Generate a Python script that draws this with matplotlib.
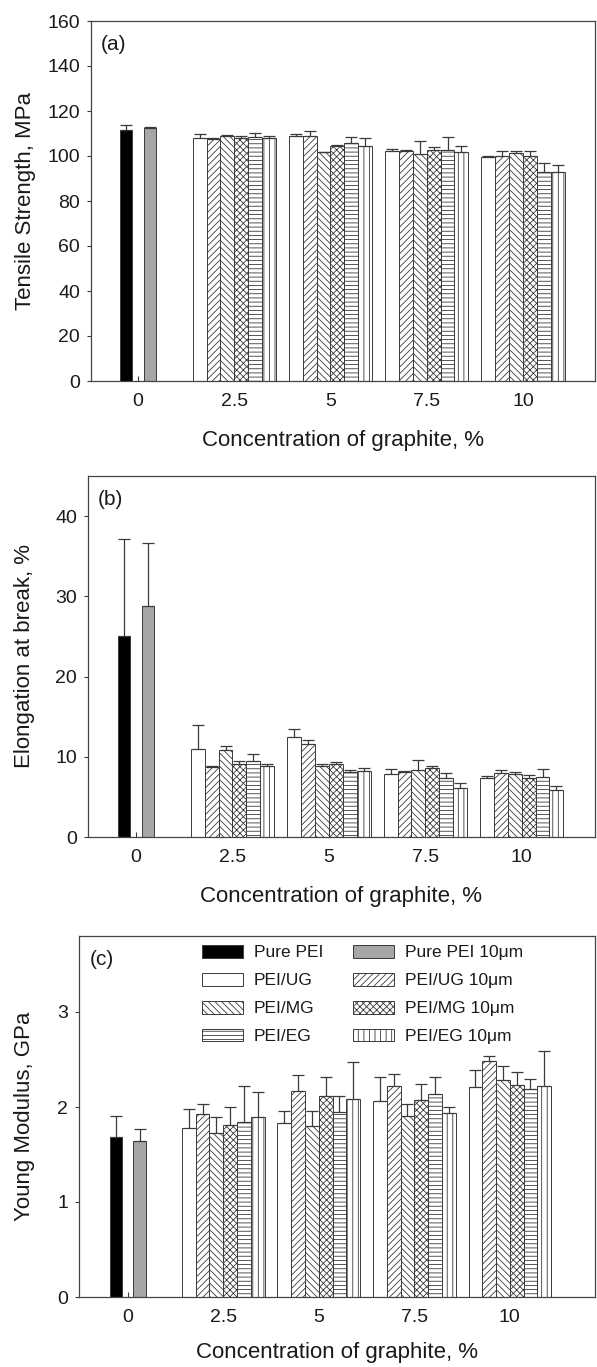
import numpy as np
import matplotlib
matplotlib.use("Agg")
import matplotlib.pyplot as plt

plt.rcParams['font.family'] = ['Liberation Sans', 'DejaVu Sans']
plt.rcParams['hatch.linewidth'] = 0.6

# concentration groups (%)
conc = [2.5, 5, 7.5, 10]
tick_pos = [0, 2.5, 5, 7.5, 10]
tick_lab = ['0', '2.5', '5', '7.5', '10']

series = ['PEI/UG', 'PEI/UG 10\u03bcm', 'PEI/MG', 'PEI/MG 10\u03bcm', 'PEI/EG', 'PEI/EG 10\u03bcm']
hatches = ['', '/////', '\\\\\\\\\\', 'xxxxx', '----', '|||']
pure_names = ['Pure PEI', 'Pure PEI 10\u03bcm']
pure_colors = ['black', '#a6a6a6']

# (a) tensile strength, MPa
ts_pure = [111.4, 112.5]
ts_pure_err = [2.3, 0.5]
ts_ug = [107.8, 109.0, 102.4, 99.4]
ts_ug_err = [2.0, 0.9, 0.9, 0.7]
ts_ug10 = [107.5, 109.0, 102.4, 100.1]
ts_ug10_err = [0.3, 2.0, 0.3, 2.0]
ts_mg = [108.7, 101.6, 100.9, 101.5]
ts_mg_err = [0.8, 0.3, 5.8, 0.9]
ts_mg10 = [108.1, 104.6, 102.8, 100.1]
ts_mg10_err = [0.6, 0.3, 1.3, 2.2]
ts_eg = [108.4, 105.9, 102.8, 93.0]
ts_eg_err = [2.0, 2.5, 5.8, 4.0]
ts_eg10 = [107.8, 104.6, 101.9, 93.0]
ts_eg10_err = [1.0, 3.5, 2.7, 3.1]

# (b) elongation at break, %
el_pure = [25.0, 28.8]
el_pure_err = [12.2, 7.8]
el_ug = [11.0, 12.5, 7.9, 7.3]
el_ug_err = [3.0, 1.0, 0.55, 0.25]
el_ug10 = [8.7, 11.6, 8.1, 8.0]
el_ug10_err = [0.2, 0.5, 0.1, 0.35]
el_mg = [10.9, 8.8, 8.4, 7.8]
el_mg_err = [0.4, 0.3, 1.25, 0.35]
el_mg10 = [9.1, 9.1, 8.6, 7.4]
el_mg10_err = [0.35, 0.25, 0.25, 0.35]
el_eg = [9.5, 8.05, 7.4, 7.5]
el_eg_err = [0.9, 0.3, 0.6, 0.95]
el_eg10 = [8.8, 8.2, 6.1, 5.8]
el_eg10_err = [0.35, 0.4, 0.6, 0.6]

# (c) Young modulus, GPa
ym_pure = [1.68, 1.64]
ym_pure_err = [0.23, 0.13]
ym_ug = [1.78, 1.83, 2.06, 2.21]
ym_ug_err = [0.2, 0.13, 0.26, 0.18]
ym_ug10 = [1.93, 2.17, 2.22, 2.48]
ym_ug10_err = [0.1, 0.17, 0.13, 0.06]
ym_mg = [1.73, 1.80, 1.91, 2.28]
ym_mg_err = [0.17, 0.16, 0.12, 0.15]
ym_mg10 = [1.81, 2.12, 2.07, 2.23]
ym_mg10_err = [0.19, 0.2, 0.175, 0.14]
ym_eg = [1.84, 1.95, 2.14, 2.19]
ym_eg_err = [0.385, 0.17, 0.175, 0.1]
ym_eg10 = [1.89, 2.08, 1.94, 2.22]
ym_eg10_err = [0.27, 0.39, 0.055, 0.37]

W, H = 597, 1367
edge = '#3a3a3a'
txt = '#1a1a1a'
bw = 0.36
pw = 0.32


def panel(box, xlim, ylim, yticks, ylabel, tag, pure, pure_err, vals, errs, xpad=14):
    l, r, t, b = box
    ax = plt.gcf().add_axes([l / W, 1 - b / H, (r - l) / W, (b - t) / H])
    handles = []
    for i in range(2):
        x = (i - 0.5) * 0.62
        h = ax.bar(x, pure[i], pw, color=pure_colors[i], edgecolor=edge,
                   linewidth=0.7, zorder=2)
        ax.errorbar(x, pure[i], yerr=[[0], [pure_err[i]]], fmt='none',
                    ecolor=edge, elinewidth=0.9, capsize=4.2, capthick=0.9, zorder=3)
        handles.append(h)
    for j in range(6):
        x = np.array(conc) + (j - 2.5) * bw
        h = ax.bar(x, vals[j], bw, color='white', edgecolor=edge, hatch=hatches[j],
                   linewidth=0.7, zorder=2)
        ax.errorbar(x, vals[j], yerr=[np.zeros(len(conc)), errs[j]], fmt='none',
                    ecolor=edge, elinewidth=0.9, capsize=4.2, capthick=0.9, zorder=3)
        handles.append(h)
    ax.set_xlim(*xlim)
    ax.set_ylim(*ylim)
    ax.set_xticks(tick_pos)
    ax.set_xticklabels(tick_lab)
    ax.set_yticks(yticks)
    ax.tick_params(axis='x', direction='in', length=3.5, width=0.8, color=edge,
                   labelsize=14, labelcolor=txt, pad=9)
    ax.tick_params(axis='y', direction='out', length=3, width=0.8, color=edge,
                   labelsize=14, labelcolor=txt, pad=5)
    for s in ax.spines.values():
        s.set_color('#444444')
        s.set_linewidth(0.9)
    ax.set_xlabel('Concentration of graphite, %', fontsize=16, color=txt, labelpad=xpad)
    ax.set_ylabel(ylabel, fontsize=16, color=txt)
    ax.text(0.02, 0.935, tag, transform=ax.transAxes, fontsize=15, color=txt,
            va='center', ha='left')
    return ax, handles


fig = plt.figure(figsize=(W / 100, H / 100), dpi=100)

ax1, _ = panel((91, 595, 21, 381), (-1.22, 11.87), (0, 160), range(0, 161, 20),
               'Tensile Strength, MPa', '(a)', ts_pure, ts_pure_err,
               [ts_ug, ts_ug10, ts_mg, ts_mg10, ts_eg, ts_eg10],
               [ts_ug_err, ts_ug10_err, ts_mg_err, ts_mg10_err, ts_eg_err, ts_eg10_err])
ax1.yaxis.set_label_coords(-0.11, 0.5)

ax2, _ = panel((88, 595, 476, 837), (-1.245, 11.9), (0, 45), [0, 10, 20, 30, 40],
               'Elongation at break, %', '(b)', el_pure, el_pure_err,
               [el_ug, el_ug10, el_mg, el_mg10, el_eg, el_eg10],
               [el_ug_err, el_ug10_err, el_mg_err, el_mg10_err, el_eg_err, el_eg10_err])
ax2.yaxis.set_label_coords(-0.105, 0.5)

ax3, hs = panel((79, 595, 936, 1297), (-1.275, 12.23), (0, 3.8), [0, 1, 2, 3],
                'Young Modulus, GPa', '(c)', ym_pure, ym_pure_err,
                [ym_ug, ym_ug10, ym_mg, ym_mg10, ym_eg, ym_eg10],
                [ym_ug_err, ym_ug10_err, ym_mg_err, ym_mg10_err, ym_eg_err, ym_eg10_err],
                xpad=11)
ax3.yaxis.set_label_coords(-0.085, 0.5)

# legend: column 1 = plain, column 2 = 10um
labels_sorted = [pure_names[0], series[0], series[2], series[4],
                 pure_names[1], series[1], series[3], series[5]]
handles_sorted = [hs[0], hs[2], hs[4], hs[6], hs[1], hs[3], hs[5], hs[7]]
ax3.legend(handles_sorted, labels_sorted, ncol=2, loc='upper left',
           bbox_to_anchor=(0.238, 0.975), frameon=False, fontsize=12.5,
           handlelength=2.4, handleheight=0.75, handletextpad=0.6,
           columnspacing=1.7, labelspacing=0.72, borderpad=0, borderaxespad=0,
           labelcolor=txt)

fig.savefig('out.png', dpi=100)
